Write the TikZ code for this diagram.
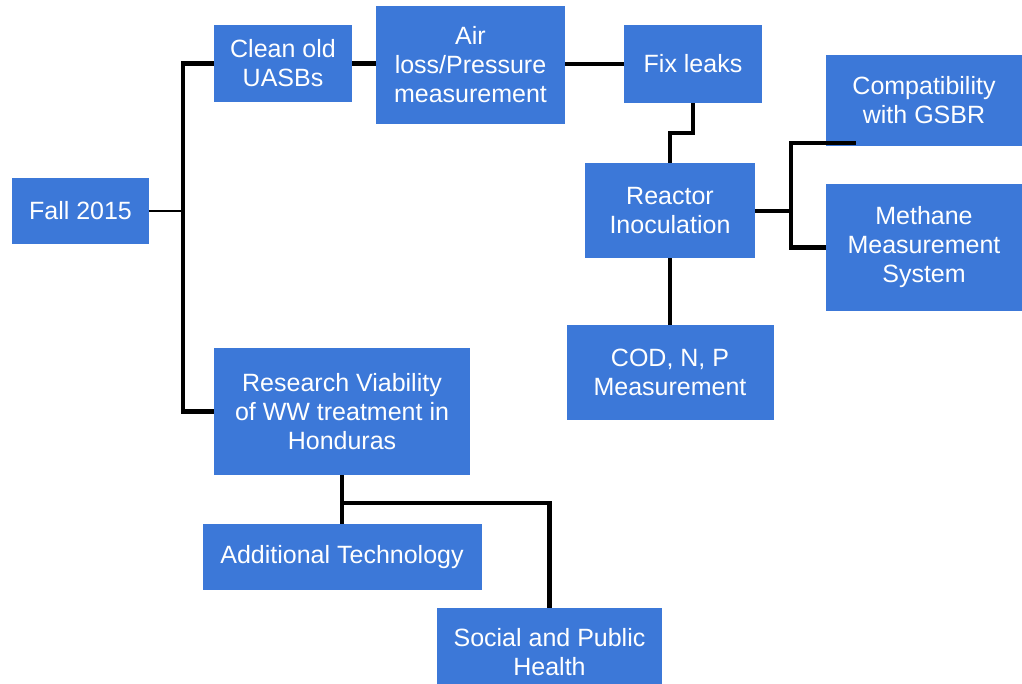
\documentclass[tikz,border=0pt]{standalone}
\usepackage{fontspec}
\setmainfont{Liberation Sans}
\usetikzlibrary{calc}
\definecolor{taskColor}{RGB}{60,120,216}
\tikzset{task/.style={fill=taskColor, text=white, align=center, inner sep=0pt, font=\fontsize{25}{29}\selectfont}}
\tikzset{link/.style={line width=4.2pt}}
\tikzset{thinlink/.style={line width=1.3pt}}

\begin{document}
\begin{tikzpicture}[x=1pt, y=-1pt]
\path[use as bounding box, clip] (0,0) rectangle (1022,683);
% Nodes
\node (Fall) [task, minimum width=137pt, minimum height=66pt] at (80.5,211) {Fall 2015};
\node (CleanOld) [task, minimum width=138pt, minimum height=77pt] at (283,63.5) {Clean old\\UASBs};
\node (AirLoss) [task, minimum width=189pt, minimum height=118pt] at (470.5,65) {Air\\loss/Pressure\\measurement};
\node (FixLeaks) [task, minimum width=138pt, minimum height=78pt] at (693,64) {Fix leaks};
\node (Compat) [task, minimum width=196pt, minimum height=91pt] at (924,100.5) {Compatibility\\with GSBR};
\node (Reactor) [task, minimum width=170pt, minimum height=95pt] at (670,210.5) {Reactor\\Inoculation};
\node (Methane) [task, minimum width=196pt, minimum height=127pt] at (924,247.5) {Methane\\Measurement\\System};
\node (COD) [task, minimum width=207pt, minimum height=95pt] at (670,372.5) {COD, N, P\\Measurement};
\node (Research) [task, minimum width=256pt, minimum height=127pt] at (342,411.5) {Research Viability\\of WW treatment in\\Honduras};
\node (Additional) [task, minimum width=279pt, minimum height=66pt] at (342,557) {Additional Technology};
\node (Social) [task, minimum width=225pt, minimum height=88pt] at (549.5,652) {Social and Public\\Health};

\coordinate (Trunk) at (183,211);
\coordinate (Kink) at (670,133);
\coordinate (Split) at (791,211);
\coordinate (CompatTip) at (856,143);
\coordinate (Fork) at (342,503);

% Connectors
\begin{scope}[link]
\draw [thinlink] (Fall) -- (Trunk);
\draw (Trunk) |- (CleanOld);
\draw (Trunk) |- (Research);
\draw (CleanOld) -- (CleanOld -| AirLoss.west);
\draw (AirLoss.east |- FixLeaks) -- (FixLeaks);
\draw (FixLeaks) |- (Kink) -| (Reactor);
\draw (Reactor.east |- Split) -- (Split);
\draw (Split) |- (CompatTip);
\draw (Split) |- (Methane);
\draw (Reactor) -- (COD);
\draw (Research) -- (Additional);
\draw (Fork) -| (Social);
\end{scope}

\end{tikzpicture}
\end{document}
